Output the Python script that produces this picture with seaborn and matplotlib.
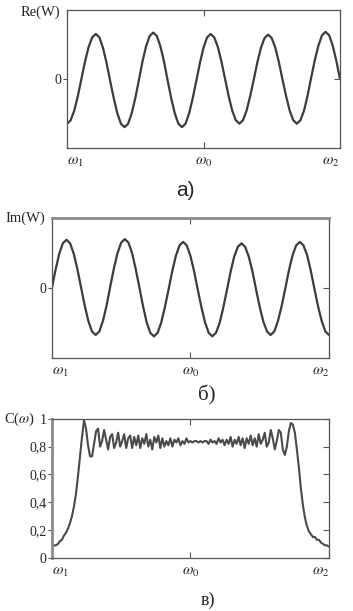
import numpy as np
import matplotlib
matplotlib.use("Agg")
import matplotlib.pyplot as plt
import seaborn as sns

# Re(W), Im(W), 77 samples from omega1 to omega2
re_w = [-0.65, -0.60, -0.46, -0.25, 0.00, 0.25, 0.46, 0.60, 0.65,
        0.60, 0.45, 0.23, -0.03, -0.28, -0.50, -0.65, -0.70,
        -0.65, -0.50, -0.28, -0.02, 0.25, 0.47, 0.62, 0.67,
        0.62, 0.47, 0.25, -0.02, -0.28, -0.50, -0.65, -0.70,
        -0.65, -0.50, -0.28, -0.03, 0.23, 0.45, 0.60, 0.65,
        0.60, 0.46, 0.25, 0.00, -0.25, -0.46, -0.60, -0.65,
        -0.60, -0.46, -0.25, -0.01, 0.24, 0.45, 0.59, 0.64,
        0.59, 0.45, 0.24, -0.01, -0.25, -0.46, -0.60, -0.65,
        -0.60, -0.46, -0.24, 0.02, 0.27, 0.48, 0.63, 0.68,
        0.63, 0.48, 0.26, 0.00]

im_w = [0.00, 0.26, 0.49, 0.64, 0.69,
        0.64, 0.49, 0.27, 0.01, -0.25, -0.47, -0.62, -0.67,
        -0.62, -0.47, -0.25, 0.02, 0.28, 0.50, 0.65, 0.70,
        0.65, 0.50, 0.27, 0.01, -0.26, -0.49, -0.64, -0.69,
        -0.64, -0.49, -0.27, -0.02, 0.24, 0.46, 0.61, 0.66,
        0.61, 0.46, 0.24, -0.02, -0.27, -0.49, -0.64, -0.69,
        -0.64, -0.50, -0.28, -0.03, 0.23, 0.45, 0.59, 0.64,
        0.59, 0.45, 0.24, -0.02, -0.27, -0.48, -0.62, -0.67,
        -0.62, -0.47, -0.26, -0.01, 0.25, 0.47, 0.61, 0.66,
        0.61, 0.47, 0.25, -0.01, -0.26, -0.47, -0.62, -0.67]

# C(omega), 139 samples from omega1 to omega2
c_w = [0.08, 0.09, 0.09, 0.10, 0.12, 0.13, 0.16, 0.18, 0.21, 0.25,
       0.30, 0.37, 0.46, 0.59, 0.73, 0.87, 0.99, 0.93, 0.81, 0.73,
       0.73, 0.82, 0.91, 0.93, 0.80, 0.84, 0.92, 0.85, 0.78, 0.87,
       0.89, 0.79, 0.83, 0.90, 0.80, 0.84, 0.89, 0.79, 0.86, 0.88,
       0.79, 0.87, 0.81, 0.88, 0.79, 0.86, 0.82, 0.89, 0.80, 0.85,
       0.78, 0.87, 0.83, 0.88, 0.79, 0.86, 0.80, 0.84, 0.81, 0.86,
       0.80, 0.85, 0.83, 0.86, 0.81, 0.84, 0.82, 0.86, 0.83, 0.84,
       0.83, 0.84, 0.84, 0.83, 0.84, 0.83, 0.84, 0.84, 0.82, 0.85,
       0.83, 0.84, 0.82, 0.86, 0.83, 0.85, 0.81, 0.85, 0.82, 0.87,
       0.80, 0.85, 0.82, 0.87, 0.81, 0.86, 0.79, 0.86, 0.82, 0.88,
       0.81, 0.86, 0.80, 0.89, 0.82, 0.85, 0.90, 0.80, 0.83, 0.92,
       0.86, 0.78, 0.84, 0.92, 0.90, 0.78, 0.74, 0.80, 0.91, 0.97,
       0.96, 0.90, 0.78, 0.65, 0.50, 0.38, 0.29, 0.23, 0.19, 0.17,
       0.15, 0.15, 0.13, 0.13, 0.11, 0.10, 0.09, 0.09, 0.08]

x_ticks = [0.0, 0.5, 1.0]
x_labels = [r"$\omega_1$", r"$\omega_0$", r"$\omega_2$"]
c_ticks = [0, 0.2, 0.4, 0.6, 0.8, 1.0]
c_labels = ["0", "0,2", "0,4", "0,6", "0,8", "1"]

sns.set_style("ticks")
plt.rcParams["font.family"] = ["Liberation Serif", "DejaVu Serif"]
plt.rcParams["mathtext.fontset"] = "stix"

line_col = "#3c3c3c"
fig = plt.figure(figsize=(3.53, 6.11), dpi=100)

ax_a = fig.add_axes([0.190, 0.758, 0.773, 0.226])
ax_b = fig.add_axes([0.147, 0.414, 0.785, 0.229])
ax_c = fig.add_axes([0.147, 0.087, 0.785, 0.2275])


def style_axes(ax):
    for s in ax.spines.values():
        s.set_color("#555555")
        s.set_linewidth(0.9)
    ax.set_xlim(0, 1)
    ax.set_xticks(x_ticks)
    ax.set_xticklabels(x_labels, fontsize=11)
    tl = ax.get_xticklabels()
    tl[0].set_horizontalalignment("left")
    tl[-1].set_horizontalalignment("right")
    ax.tick_params(axis="x", direction="in", top=True, length=4,
                   width=0.8, color="#555555", pad=6)
    ax.tick_params(axis="y", direction="out", length=3, width=0.8,
                   color="#555555", pad=1, labelsize=10)
    sec = ax.secondary_yaxis("right")
    sec.set_yticks(ax.get_yticks())
    sec.tick_params(direction="in", length=4, width=0.8, color="#555555",
                    labelright=False)
    sec.spines["right"].set_visible(False)
    ax.set_xlabel("")
    ax.set_ylabel("")


# a) Re(W)
x_re = np.linspace(0, 1, len(re_w))
sns.lineplot(x=x_re, y=re_w, ax=ax_a, color=line_col, linewidth=1.6)
ax_a.set_ylim(-1, 1)
ax_a.set_yticks([0])
ax_a.set_yticklabels(["0"])
style_axes(ax_a)
ax_a.text(-0.026, 0.985, "Re(W)", transform=ax_a.transAxes,
          ha="right", va="center", fontsize=10.5)
fig.text(0.524, 0.689, "а)", ha="center", va="center", fontsize=15,
         family=["Liberation Sans", "DejaVu Sans"])

# б) Im(W)
x_im = np.linspace(0, 1, len(im_w))
sns.lineplot(x=x_im, y=im_w, ax=ax_b, color=line_col, linewidth=1.6)
ax_b.set_ylim(-1, 1)
ax_b.set_yticks([0])
ax_b.set_yticklabels(["0"])
style_axes(ax_b)
ax_b.spines["top"].set_color("#8a8a8a")
ax_b.spines["top"].set_linewidth(2)
ax_b.text(-0.025, 1.0, "Im(W)", transform=ax_b.transAxes,
          ha="right", va="center", fontsize=10.5)
fig.text(0.586, 0.352, "б)", ha="center", va="center", fontsize=15)

# в) C(omega)
x_c = np.linspace(0, 1, len(c_w))
sns.lineplot(x=x_c, y=c_w, ax=ax_c, color="#4a4a4a", linewidth=1.5)
ax_c.set_ylim(0, 1)
ax_c.set_yticks(c_ticks)
ax_c.set_yticklabels(c_labels)
style_axes(ax_c)
ax_c.spines["left"].set_color("#8a8a8a")
ax_c.spines["left"].set_linewidth(2)
ax_c.text(-0.061, 1.0, r"C($\omega$)", transform=ax_c.transAxes,
          ha="right", va="center", fontsize=10.5)
fig.text(0.589, 0.018, "в)", ha="center", va="center", fontsize=13)

fig.savefig("out.png", dpi=100)
